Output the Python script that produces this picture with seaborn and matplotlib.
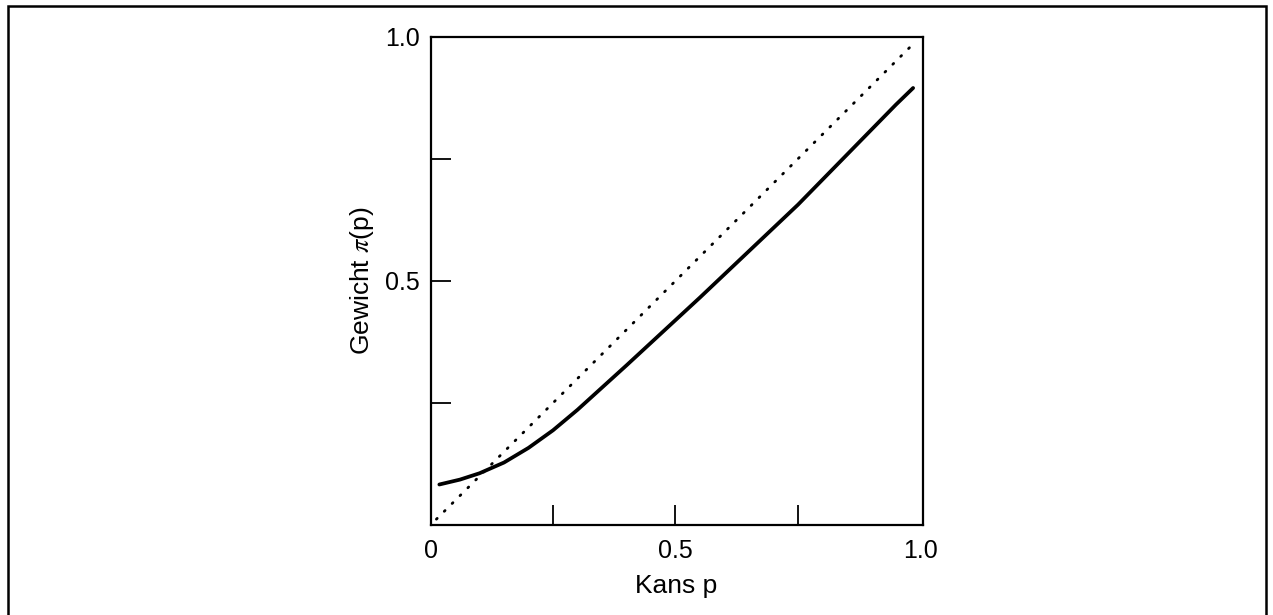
import matplotlib
matplotlib.use("Agg")
import matplotlib.pyplot as plt
import seaborn as sns
import pandas as pd
from matplotlib.patches import Rectangle

# gewichtsfunctie
kans = [0.018, 0.06, 0.10, 0.15, 0.20, 0.25, 0.30, 0.40, 0.55, 0.75, 0.95, 0.985]
gewicht = [0.083, 0.093, 0.106, 0.128, 0.158, 0.194, 0.236, 0.327, 0.466, 0.656, 0.861, 0.895]

# diagonaal pi(p) = p
diag_p = [0.012, 0.986]
diag_w = [0.012, 0.986]

# gelabelde posities en streepjes (streepjes naar binnen)
x_labels_at = [0, 0.5, 1.0]
x_labels = ["0", "0.5", "1.0"]
y_labels_at = [0.5, 1.0]
y_labels = ["0.5", "1.0"]
marks = [0.25, 0.5, 0.75]

sns.set_style("white")
plt.rcParams['font.family'] = ['Liberation Sans', 'DejaVu Sans']
plt.rcParams['mathtext.fontset'] = 'stix'

fig = plt.figure(figsize=(12.73, 6.15), dpi=100)
ax = fig.add_axes([0.3382, 0.1463, 0.3866, 0.794])

df = pd.DataFrame({'p': kans, 'w': gewicht})
sns.lineplot(data=df, x='p', y='w', ax=ax, color='black', lw=2.7, sort=True)
sns.lineplot(x=diag_p, y=diag_w, ax=ax, color='black', lw=2.0,
             linestyle=(0, (0.4, 3.6)), dash_capstyle='round')

ax.set_xlim(0, 1.0045)
ax.set_ylim(0, 1.0)
ax.xaxis.remove_overlapping_locs = False
ax.yaxis.remove_overlapping_locs = False
ax.set_xticks(x_labels_at)
ax.set_xticklabels(x_labels)
ax.set_yticks(y_labels_at)
ax.set_yticklabels(y_labels)
ax.set_xticks(marks, minor=True)
ax.set_yticks(marks, minor=True)
ax.tick_params(which='major', length=0, labelsize=18, labelcolor='black',
               bottom=True, left=True)
ax.tick_params(which='minor', direction='in', length=14.5, width=1.3, color='black',
               bottom=True, left=True)
ax.tick_params(axis='x', which='major', pad=10)
ax.tick_params(axis='y', which='major', pad=8)
for s in ax.spines.values():
    s.set_visible(True)
    s.set_color('black')
    s.set_linewidth(1.6)

ax.set_xlabel("Kans p", fontsize=19, labelpad=8, color='black')
ax.set_ylabel(r"Gewicht $\pi$(p)", fontsize=19, labelpad=6, color='black')

# kader rond de hele figuur
fig.patches.append(Rectangle((8 / 1273, -0.02), 1258 / 1273, 1.01, transform=fig.transFigure,
                             fill=False, edgecolor='black', lw=1.8))

fig.savefig("out.png", dpi=100)
